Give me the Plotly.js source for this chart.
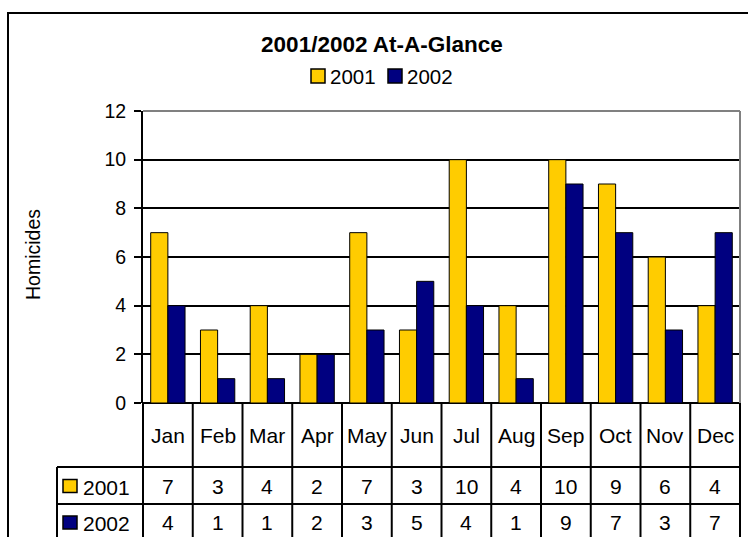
<!DOCTYPE html>
<html><head><meta charset="utf-8">
<script src="https://cdn.plot.ly/plotly-3.0.1.min.js"></script>
<style>html,body{margin:0;padding:0;background:#fff}#chart{width:748px;height:537px}</style>
</head><body><div id="chart"></div>
<script>
const months = ['Jan','Feb','Mar','Apr','May','Jun','Jul','Aug','Sep','Oct','Nov','Dec'];
const seriesNames = ['2001','2002'];
const values2001 = [7,3,4,2,7,3,10,4,10,9,6,4];
const values2002 = [4,1,1,2,3,5,4,1,9,7,3,7];
const seriesColors = ['#FFCC00','#000080'];
const yTicks = [0,2,4,6,8,10,12];
const chartTitle = '2001/2002 At-A-Glance';
const yTitle = 'Homicides';

const W = 748, H = 537, L = 143, R = 740, T = 111, B = 403;
const px2x = p => (p - L) / (R - L);
const px2y = p => (B - p) / (B - T);
const xRange = [-0.5, months.length - 0.5];
const cat2paper = v => (v - xRange[0]) / (xRange[1] - xRange[0]);
const FONT = 'Liberation Sans, Arial, sans-serif';
const series = [values2001, values2002];

const traces = series.map((vals, k) => ({
  type: 'bar', x: months, y: vals, name: seriesNames[k],
  marker: {color: seriesColors[k], line: {color: '#000', width: 1}},
  hoverinfo: 'x+y'
}));

const shapes = [];
const annotations = [];
const line = (x0, y0, x1, y1, color, width) => shapes.push({type: 'line', xref: 'paper', yref: 'paper', x0, y0, x1, y1, line: {color, width}, layer: 'above'});

// plot area gray border (top, right)
line(0, 1, 1, 1, '#808080', 2);
line(1, 0, 1, 1, '#808080', 2);
// outer chart border
shapes.push({type: 'rect', xref: 'paper', yref: 'paper', x0: px2x(8), y0: px2y(13), x1: px2x(770), y1: px2y(570), line: {color: '#000', width: 2}, fillcolor: 'rgba(0,0,0,0)', layer: 'above'});
// data table grid
for (let i = 0; i <= months.length; i++) {
  const xp = cat2paper(i - 0.5);
  line(xp, 0, xp, px2y(545), '#000', 2);
}
const rowTops = [467, 504];
rowTops.forEach(py => line(px2x(57), px2y(py), 1, px2y(py), '#000', 2));
line(px2x(57), px2y(467), px2x(57), px2y(545), '#000', 2);

// month labels
months.forEach((m, i) => annotations.push({x: m, xref: 'x', y: px2y(435), yref: 'paper', text: m, showarrow: false, font: {size: 21, family: FONT, color: '#000'}, yanchor: 'middle'}));
// value rows
const rowCenters = [486, 522.5];
series.forEach((vals, k) => {
  vals.forEach((v, i) => annotations.push({x: months[i], xref: 'x', y: px2y(rowCenters[k]), yref: 'paper', text: String(v), showarrow: false, font: {size: 21, family: FONT, color: '#000'}, yanchor: 'middle'}));
  // table legend keys
  shapes.push({type: 'rect', xref: 'paper', yref: 'paper', x0: px2x(63), x1: px2x(77), y0: px2y(rowCenters[k] - 6.5), y1: px2y(rowCenters[k] + 6.5), fillcolor: seriesColors[k], line: {color: '#000', width: 1.5}, layer: 'above'});
  annotations.push({x: px2x(81), xref: 'paper', xanchor: 'left', y: px2y(rowCenters[k] + 1), yref: 'paper', yanchor: 'middle', text: seriesNames[k], showarrow: false, font: {size: 21, family: FONT, color: '#000'}});
});
// top legend
const legSq = [311, 388], legTxt = [328, 405];
seriesNames.forEach((n, k) => {
  shapes.push({type: 'rect', xref: 'paper', yref: 'paper', x0: px2x(legSq[k]), x1: px2x(legSq[k] + 14), y0: px2y(69), y1: px2y(83), fillcolor: seriesColors[k], line: {color: '#000', width: 1.5}, layer: 'above'});
  annotations.push({x: px2x(legTxt[k]), xref: 'paper', xanchor: 'left', y: px2y(76), yref: 'paper', yanchor: 'middle', text: n, showarrow: false, font: {size: 20.5, family: FONT, color: '#000'}});
});
// y title
annotations.push({x: px2x(33), xref: 'paper', y: px2y(255), yref: 'paper', text: yTitle, textangle: -90, showarrow: false, font: {size: 19.5, family: FONT, color: '#000'}, xanchor: 'center', yanchor: 'middle'});

const layout = {
  width: W, height: H,
  margin: {l: L, r: W - R, t: T, b: H - B, pad: 0},
  paper_bgcolor: '#fff', plot_bgcolor: '#fff',
  font: {family: FONT, color: '#000'},
  title: {text: chartTitle, font: {size: 22.5, family: FONT, weight: 'bold', color: '#000'}, x: 382 / W, xanchor: 'center', xref: 'container', y: 1 - 44.5 / H, yanchor: 'middle', yref: 'container'},
  barmode: 'group', bargap: 0.31, bargroupgap: 0,
  showlegend: false,
  xaxis: {type: 'category', range: xRange, showticklabels: false, ticks: '', showline: false, showgrid: false, zeroline: false, fixedrange: true},
  yaxis: {range: [0, 12], tickvals: yTicks, ticktext: yTicks.map(String), ticks: 'outside', ticklen: 7, tickwidth: 2, tickcolor: '#000',
    showline: true, linecolor: '#000', linewidth: 2, showgrid: true, gridcolor: '#000', gridwidth: 2,
    zeroline: true, zerolinecolor: '#000', zerolinewidth: 2, tickfont: {size: 19.5, family: FONT, color: '#000'}, ticklabelstandoff: 4, fixedrange: true},
  shapes, annotations
};
Plotly.newPlot('chart', traces, layout, {displayModeBar: false, staticPlot: true});
</script></body></html>
